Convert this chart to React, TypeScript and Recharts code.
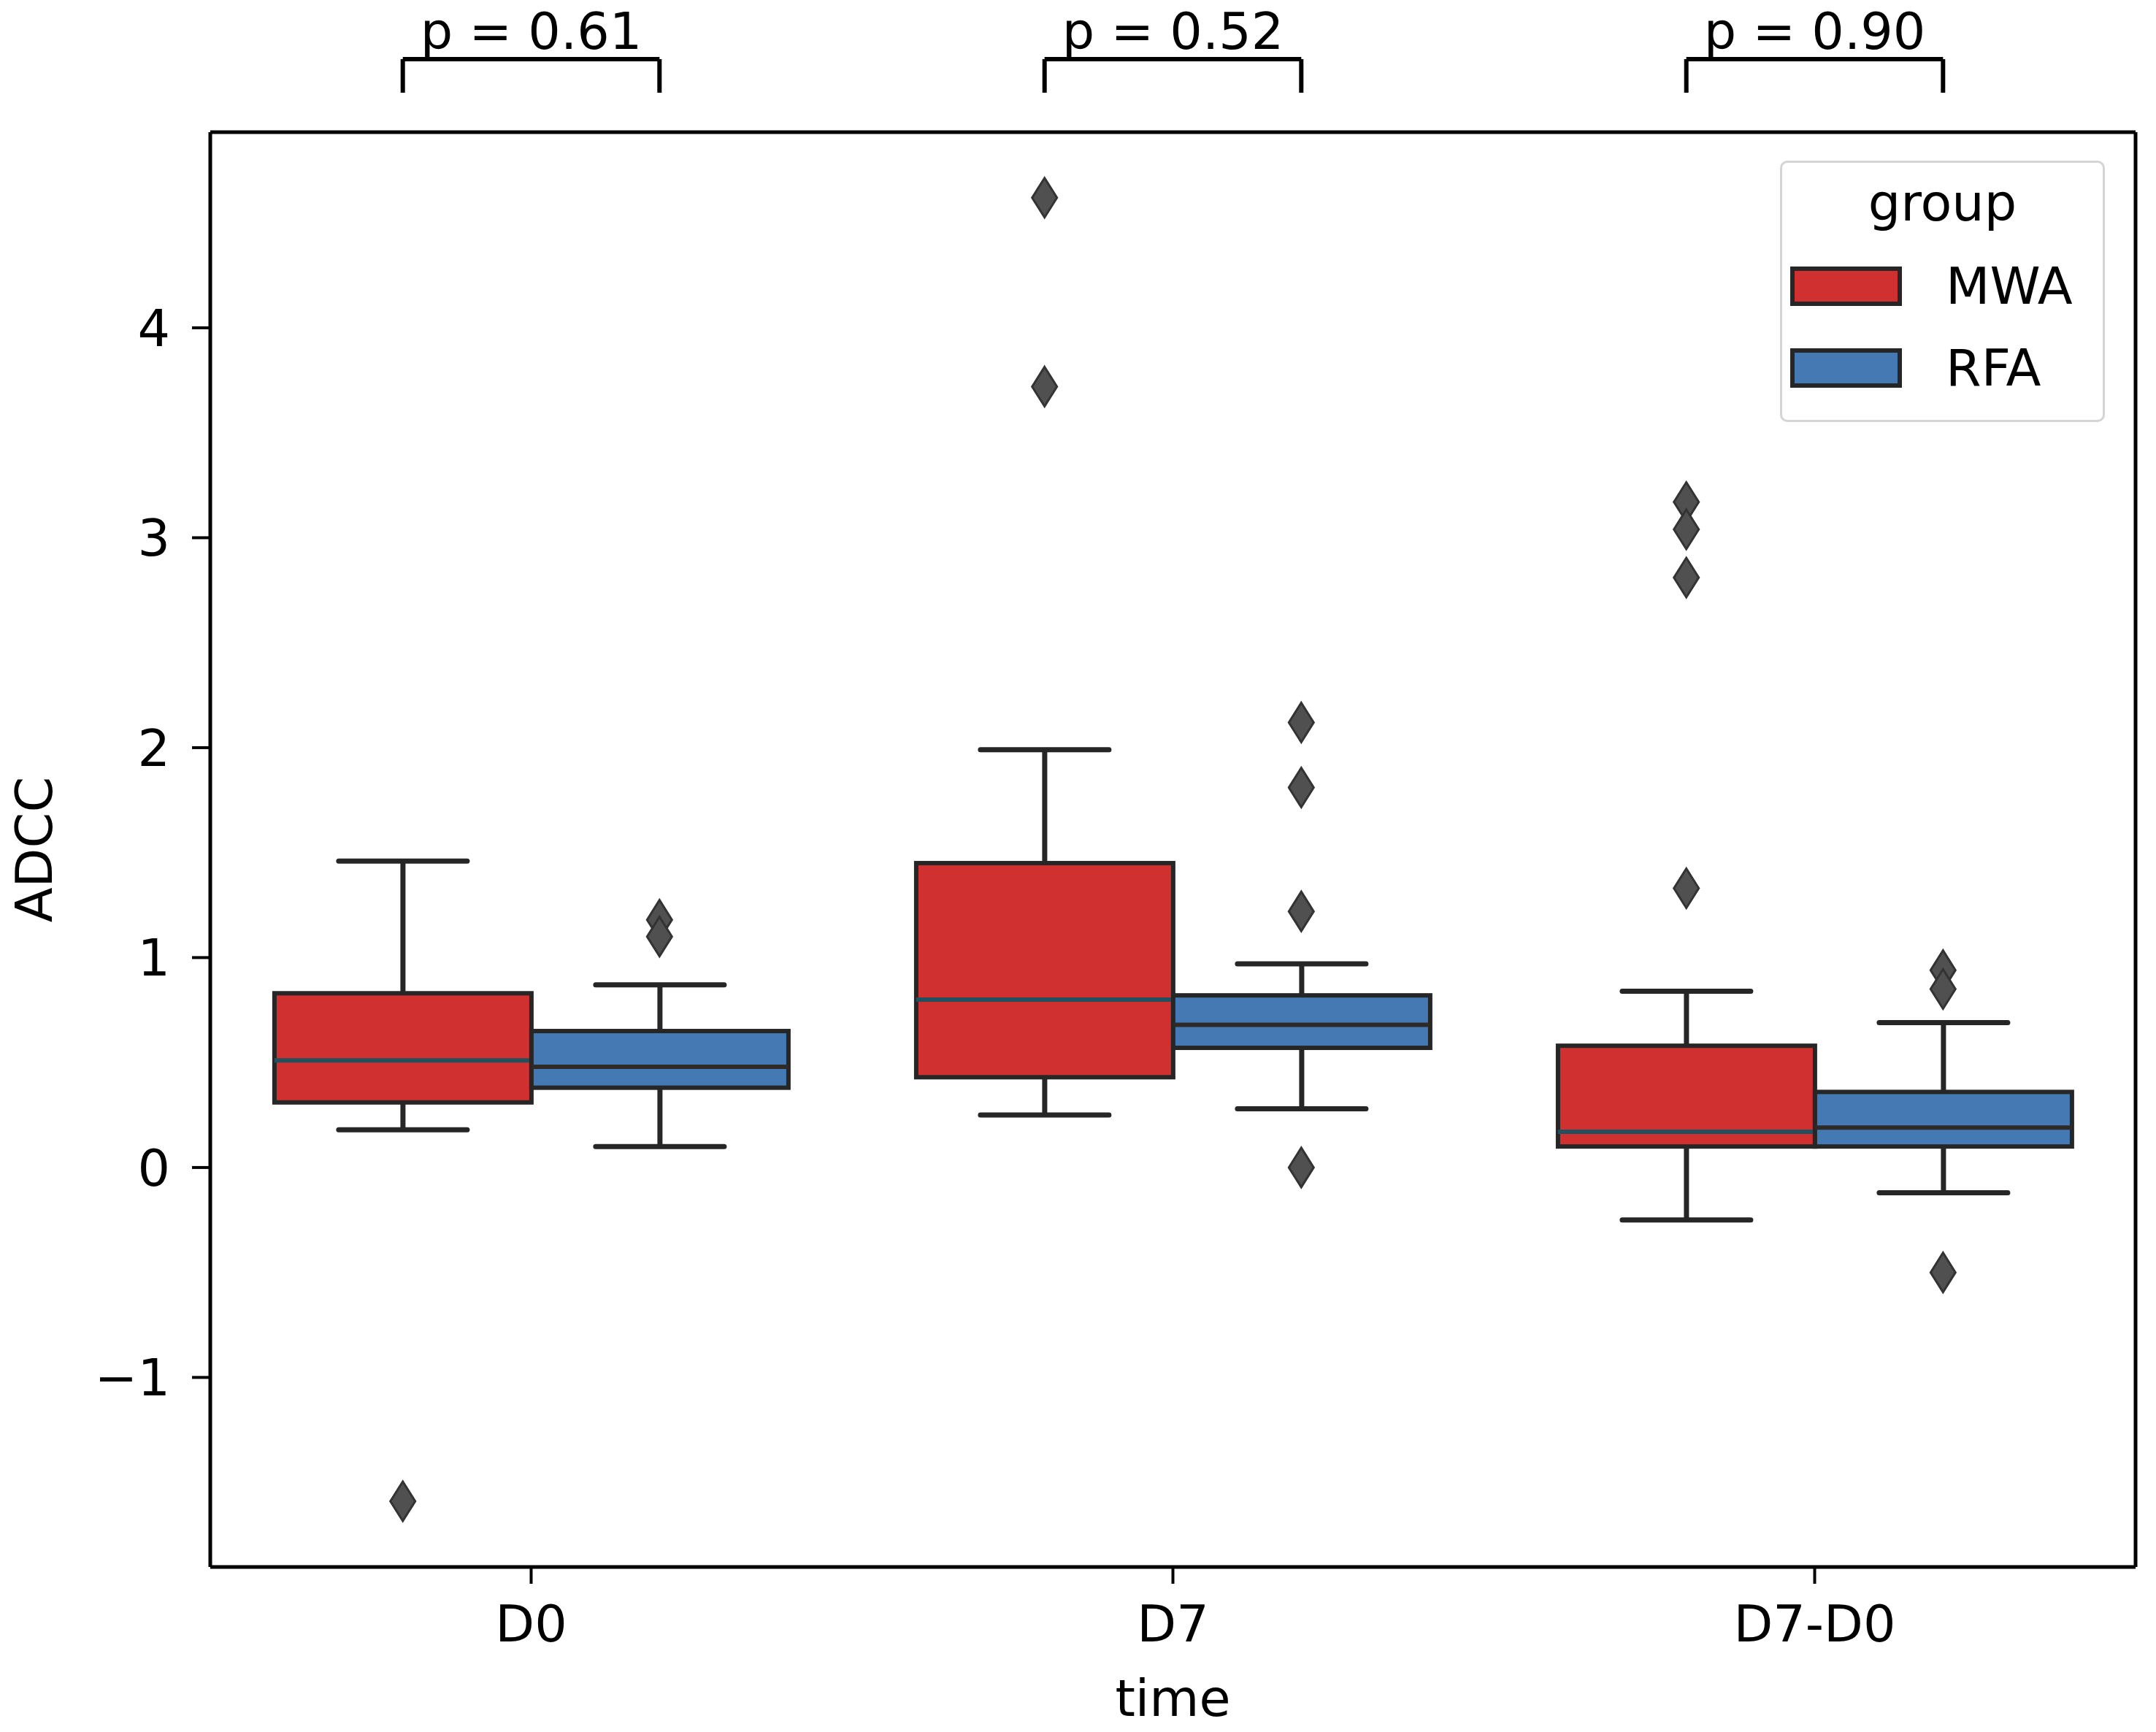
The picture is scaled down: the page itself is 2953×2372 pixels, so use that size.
import React from 'react';
import { ComposedChart, Bar, Scatter, XAxis, YAxis, ReferenceLine, Legend, Label } from 'recharts';

// values (ADCC by time and group)
const times = ['D0', 'D7', 'D7-D0'];
const groups = ['MWA', 'RFA'];

const mwaWhiskerLow = [0.18, 0.25, -0.25];
const mwaQ1 = [0.31, 0.43, 0.1];
const mwaMedian = [0.51, 0.8, 0.17];
const mwaQ3 = [0.83, 1.45, 0.58];
const mwaWhiskerHigh = [1.46, 1.99, 0.84];
const mwaOutliers = [[-1.59], [4.62, 3.72], [3.17, 3.04, 2.81, 1.33]];

const rfaWhiskerLow = [0.1, 0.28, -0.12];
const rfaQ1 = [0.38, 0.57, 0.1];
const rfaMedian = [0.48, 0.68, 0.19];
const rfaQ3 = [0.65, 0.82, 0.36];
const rfaWhiskerHigh = [0.87, 0.97, 0.69];
const rfaOutliers = [[1.18, 1.1], [2.12, 1.81, 1.22, 0.0], [0.94, 0.85, -0.5]];

const pValues = ['0.61', '0.52', '0.90'];
const yTicks = [-1, 0, 1, 2, 3, 4];

const Y_MIN = -1.903;
const Y_MAX = 4.932;
const BRACKET_TOP = 5.28;
const BRACKET_FOOT = 5.12;

const FONT = 'DejaVu Sans';
const COLORS: Record<string, string> = { MWA: '#d0302f', RFA: '#4479b3' };
const MEDIAN_COLORS: Record<string, string> = { MWA: '#22505e', RFA: '#2e2a28' };
const EDGE = '#262626';

type Stats = { lo: number; q1: number; med: number; q3: number; hi: number };

const statsFor = (g: string, i: number): Stats =>
  g === 'MWA'
    ? { lo: mwaWhiskerLow[i], q1: mwaQ1[i], med: mwaMedian[i], q3: mwaQ3[i], hi: mwaWhiskerHigh[i] }
    : { lo: rfaWhiskerLow[i], q1: rfaQ1[i], med: rfaMedian[i], q3: rfaQ3[i], hi: rfaWhiskerHigh[i] };

// each bar spans the whiskers; the shape draws box and median inside that span
const rows = times.map((time, i) => ({
  time,
  MWA: [mwaWhiskerLow[i], mwaWhiskerHigh[i]],
  RFA: [rfaWhiskerLow[i], rfaWhiskerHigh[i]],
  stats: { MWA: statsFor('MWA', i), RFA: statsFor('RFA', i) },
}));

// outliers sit on the box centres: category centre -/+ 0.2 of a category
const outliers = times.flatMap((_, i) => [
  ...mwaOutliers[i].map((y) => ({ x: i + 0.3, y })),
  ...rfaOutliers[i].map((y) => ({ x: i + 0.7, y })),
]);

const BoxShape = (props: any) => {
  const { x, y, width, height, payload, group } = props;
  const s: Stats | undefined = payload && payload.stats ? payload.stats[group] : undefined;
  if (!s || !Number.isFinite(y) || !Number.isFinite(height)) return null;
  const py = (v: number) => y + (height * (s.hi - v)) / (s.hi - s.lo);
  const cx = x + width / 2;
  const cap = width / 4;
  return (
    <g>
      <line x1={cx} x2={cx} y1={py(s.hi)} y2={py(s.q3)} stroke={EDGE} strokeWidth={7} />
      <line x1={cx} x2={cx} y1={py(s.q1)} y2={py(s.lo)} stroke={EDGE} strokeWidth={7} />
      <line x1={cx - cap} x2={cx + cap} y1={py(s.hi)} y2={py(s.hi)} stroke={EDGE} strokeWidth={7} strokeLinecap="round" />
      <line x1={cx - cap} x2={cx + cap} y1={py(s.lo)} y2={py(s.lo)} stroke={EDGE} strokeWidth={7} strokeLinecap="round" />
      <rect
        x={x}
        y={py(s.q3)}
        width={width}
        height={py(s.q1) - py(s.q3)}
        fill={COLORS[group]}
        stroke={EDGE}
        strokeWidth={6}
      />
      <line x1={x} x2={x + width} y1={py(s.med)} y2={py(s.med)} stroke={MEDIAN_COLORS[group]} strokeWidth={6} />
    </g>
  );
};

const Diamond = (props: any) => {
  const { cx, cy } = props;
  if (!Number.isFinite(cx) || !Number.isFinite(cy)) return null;
  const w = 17;
  const h = 27;
  return (
    <path
      d={`M${cx},${cy - h} L${cx + w},${cy} L${cx},${cy + h} L${cx - w},${cy} Z`}
      fill="#505050"
      stroke="#333"
      strokeWidth={3}
    />
  );
};

const LegendBox = ({ payload }: any) => (
  <div
    style={{
      position: 'relative',
      width: 445,
      height: 358,
      boxSizing: 'border-box',
      border: '3px solid #d4d4d4',
      borderRadius: 10,
      background: 'rgba(255,255,255,0.85)',
      fontFamily: FONT,
      color: '#000',
    }}
  >
    <div style={{ position: 'absolute', top: 20, left: 0, right: 0, textAlign: 'center', fontSize: 70, lineHeight: '70px' }}>
      group
    </div>
    {(payload || [])
      .filter((entry: any) => groups.includes(entry.value))
      .map((entry: any, i: number) => (
        <div key={entry.value} style={{ position: 'absolute', left: 11, top: 142 + i * 112, display: 'flex' }}>
          <span
            style={{
              display: 'inline-block',
              width: 153,
              height: 54,
              boxSizing: 'border-box',
              background: entry.color,
              border: `6px solid ${EDGE}`,
            }}
          />
          <span style={{ marginLeft: 60, fontSize: 70, lineHeight: '54px' }}>{entry.value}</span>
        </div>
      ))}
  </div>
);

const tickStyle = { fontSize: 70, fill: '#000', fontFamily: FONT };

export default function App() {
  return (
    <div style={{ position: 'absolute', left: 0, top: 0, background: '#fff' }}>
      <ComposedChart
        width={2953}
        height={2372}
        data={rows}
        margin={{ top: 181, right: 28, bottom: 0, left: 88 }}
        barCategoryGap="10%"
        barGap={0}
        style={{ fontFamily: FONT }}
      >
        <XAxis
          dataKey="time"
          type="category"
          height={226}
          tickSize={23}
          tickMargin={29}
          tick={tickStyle}
          axisLine={{ stroke: '#000', strokeWidth: 5 }}
          tickLine={{ stroke: '#000', strokeWidth: 4 }}
        >
          <Label value="time" position="insideBottom" offset={22} fontSize={70} fill="#000" fontFamily={FONT} />
        </XAxis>
        <XAxis xAxisId="num" dataKey="x" type="number" domain={[0, 3]} allowDataOverflow hide />
        <YAxis
          type="number"
          domain={[Y_MIN, Y_MAX]}
          allowDataOverflow
          ticks={yTicks}
          width={200}
          tickSize={25}
          tickMargin={30}
          tick={tickStyle}
          tickFormatter={(v: number) => (v < 0 ? `\u2212${Math.abs(v)}` : `${v}`)}
          axisLine={{ stroke: '#000', strokeWidth: 5 }}
          tickLine={{ stroke: '#000', strokeWidth: 4 }}
        >
          <Label
            content={({ viewBox }: any) => {
              const cy = viewBox ? viewBox.y + viewBox.height / 2 : 1166;
              return (
                <text
                  x={47}
                  y={cy}
                  transform={`rotate(-90, 47, ${cy})`}
                  textAnchor="middle"
                  dominantBaseline="central"
                  fontSize={70}
                  fontFamily={FONT}
                  fill="#000"
                >
                  ADCC
                </text>
              );
            }}
          />
        </YAxis>

        {groups.map((g) => (
          <Bar
            key={g}
            name={g}
            dataKey={g}
            fill={COLORS[g]}
            isAnimationActive={false}
            shape={(p: any) => <BoxShape {...p} group={g} />}
          />
        ))}

        <Scatter
          xAxisId="num"
          data={outliers}
          dataKey="y"
          legendType="none"
          isAnimationActive={false}
          shape={(p: any) => <Diamond {...p} />}
        />

        {/* top and right spines */}
        <ReferenceLine y={Y_MAX} stroke="#000" strokeWidth={5} ifOverflow="visible" />
        <ReferenceLine xAxisId="num" x={3} stroke="#000" strokeWidth={5} ifOverflow="visible" />

        {/* significance brackets */}
        {pValues.map((p, i) => (
          <React.Fragment key={p + i}>
            <ReferenceLine
              xAxisId="num"
              ifOverflow="visible"
              stroke="#000"
              strokeWidth={6}
              segment={[
                { x: i + 0.3, y: BRACKET_TOP },
                { x: i + 0.7, y: BRACKET_TOP },
              ]}
              label={{ value: `p = ${p}`, position: 'top', offset: 14, fontSize: 70, fill: '#000', fontFamily: FONT }}
            />
            <ReferenceLine
              xAxisId="num"
              ifOverflow="visible"
              stroke="#000"
              strokeWidth={6}
              segment={[
                { x: i + 0.3, y: BRACKET_FOOT },
                { x: i + 0.3, y: BRACKET_TOP },
              ]}
            />
            <ReferenceLine
              xAxisId="num"
              ifOverflow="visible"
              stroke="#000"
              strokeWidth={6}
              segment={[
                { x: i + 0.7, y: BRACKET_FOOT },
                { x: i + 0.7, y: BRACKET_TOP },
              ]}
            />
          </React.Fragment>
        ))}

        <Legend
          layout="vertical"
          align="center"
          verticalAlign="middle"
          content={<LegendBox />}
          wrapperStyle={{ position: 'absolute', left: 2438, top: 220, width: 445, height: 358 }}
        />
      </ComposedChart>
    </div>
  );
}
